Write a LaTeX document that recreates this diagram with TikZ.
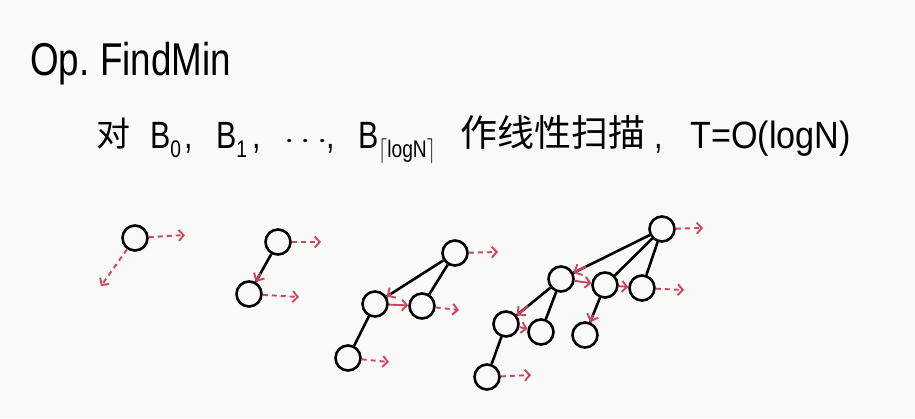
\documentclass[tikz,border=0pt]{standalone}
\usepackage{fontspec}
\setmainfont{Liberation Sans}
\newfontfamily\cjk{Noto Sans CJK SC}
\usetikzlibrary{arrows.meta, calc}

\definecolor{inkred}{RGB}{200,70,95}
\definecolor{paper}{RGB}{249,249,248}
\newcommand{\lowsub}[1]{\raisebox{-0.45ex}{\fontsize{24}{26}\selectfont #1}}
\newcommand{\narrow}[1]{\scalebox{0.8}[1]{#1}}

\begin{document}
\begin{tikzpicture}[x=1pt, y=-1pt,
    every node/.style={inner sep=0pt},
    big/.style={anchor=base west, font=\fontsize{46}{50}\selectfont},
    txt/.style={anchor=base west, font=\fontsize{38}{42}\selectfont},
    cjktxt/.style={anchor=base west, font=\cjk\fontsize{37}{40}\selectfont},
    heapnode/.style={circle, draw=black, line width=2.6pt, minimum size=25pt},
    link/.style={line width=2.6pt, black},
    nextptr/.style={inkred, line width=1.9pt, dash pattern=on 5pt off 4pt, -{Straight Barb[length=5pt, width=11pt]}},
    sibptr/.style={inkred, line width=1.9pt, -{Straight Barb[length=5pt, width=11pt]}},
    childptr/.style={inkred, line width=1.9pt, -{Straight Barb[length=6pt, width=12pt]}}
  ]
    \fill[paper] (0,0) rectangle (915,418);
    \useasboundingbox (0,0) rectangle (915,418);

    % heading
    \node[big] (op) at (30,75) {\narrow{Op.}};
    \node[big] (findmin) at (100,75) {\narrow{FindMin}};

    % scan line
    \node[cjktxt, font=\cjk\fontsize{34}{38}\selectfont] (dui) at (96,146) {对};
    \node[txt] (bzero) at (150,148) {\narrow{B\lowsub{0}}};
    \node[txt] (c1) at (184,148) {\narrow{,}};
    \node[txt] (bone) at (216,148) {\narrow{B\lowsub{1}}};
    \node[txt] (c2) at (252,148) {\narrow{,}};
    \node[txt] (dots) at (284,148) {\scalebox{1.5}[1.2]{$\cdots$}};
    \node[txt] (c3) at (326,148) {\narrow{,}};
    \node[txt] (blast) at (358,148) {\narrow{B\lowsub{$\lceil$logN$\rceil$}}};
    \node[cjktxt] (scan) at (460,146) {作线性扫描};
    \node[txt] (c4) at (654,148) {\narrow{,}};
    \node[txt] (cost) at (690,148) {\scalebox{0.9}[1]{T=O(logN)}};

    % B0
    \node[heapnode] (b0r) at (135,238) {};
    \coordinate (b0n) at (185,235);
    \coordinate (b0d) at (101,286);
    \draw[nextptr] (b0r) -- (b0n);
    \draw[nextptr] (b0r) -- (b0d);

    % B1
    \node[heapnode] (b1r) at (278,242) {};
    \node[heapnode] (b1a) at (249,294) {};
    \draw[link] (b1r) -- (b1a);
    \draw[childptr] ($(b1r)!0.6!(b1a)$) -- (b1a);
    \coordinate (b1rn) at (321,242);
    \coordinate (b1an) at (299,297);
    \draw[nextptr] (b1r) -- (b1rn);
    \draw[nextptr] (b1a) -- (b1an);

    % B2
    \node[heapnode] (b2r) at (455,253) {};
    \node[heapnode] (b2a) at (375,304) {};
    \node[heapnode] (b2b) at (422,306) {};
    \node[heapnode] (b2c) at (348,358) {};
    \draw[link] (b2r) -- (b2a);
    \draw[link] (b2r) -- (b2b);
    \draw[link] (b2a) -- (b2c);
    \draw[childptr] ($(b2r)!0.8!(b2a)$) -- (b2a);
    \draw[sibptr] (b2a) -- (b2b);
    \coordinate (b2rn) at (498,252);
    \coordinate (b2bn) at (459,310);
    \coordinate (b2cn) at (389,362);
    \draw[nextptr] (b2r) -- (b2rn);
    \draw[nextptr] (b2b) -- (b2bn);
    \draw[nextptr] (b2c) -- (b2cn);

    % B3
    \node[heapnode] (b3r) at (662,229) {};
    \node[heapnode] (b3a) at (561,279) {};
    \node[heapnode] (b3b) at (605,285) {};
    \node[heapnode] (b3c) at (642,288) {};
    \node[heapnode] (b3d) at (506,324) {};
    \node[heapnode] (b3e) at (541,332) {};
    \node[heapnode] (b3g) at (585,335) {};
    \node[heapnode] (b3f) at (487,377) {};
    \draw[link] (b3r) -- (b3a);
    \draw[link] (b3r) -- (b3b);
    \draw[link] (b3r) -- (b3c);
    \draw[link] (b3a) -- (b3d);
    \draw[link] (b3a) -- (b3e);
    \draw[link] (b3b) -- (b3g);
    \draw[link] (b3d) -- (b3f);
    \draw[childptr] ($(b3r)!0.75!(b3a)$) -- (b3a);
    \draw[childptr] ($(b3a)!0.6!(b3d)$) -- (b3d);
    \draw[childptr] ($(b3b)!0.6!(b3g)$) -- (b3g);
    \draw[sibptr] (b3a) -- (b3b);
    \draw[sibptr] (b3b) -- (b3c);
    \draw[sibptr] (b3d) -- (b3e);
    \coordinate (b3rn) at (703,228);
    \coordinate (b3cn) at (684,290);
    \coordinate (b3fn) at (531,375);
    \draw[nextptr] (b3r) -- (b3rn);
    \draw[nextptr] (b3c) -- (b3cn);
    \draw[nextptr] (b3f) -- (b3fn);
  \end{tikzpicture}
\end{document}
